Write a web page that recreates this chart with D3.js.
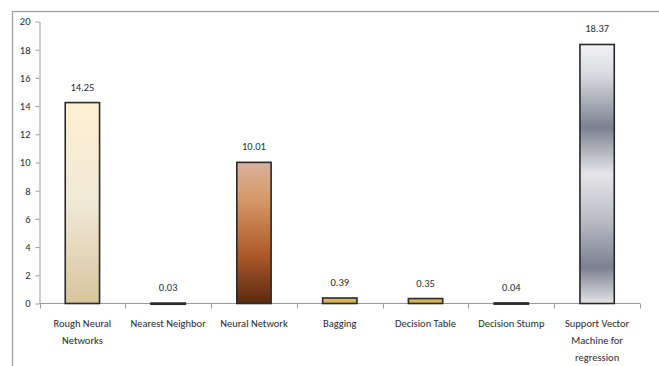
<!DOCTYPE html>
<html>
<head>
<meta charset="utf-8">
<script src="https://cdn.jsdelivr.net/npm/d3@7"></script>
<style>
  html, body { margin: 0; padding: 0; background: #fff; }
  svg { display: block; }
  text { font-family: Carlito, Lato, "Liberation Sans", sans-serif; fill: #2b2b2b; }
</style>
</head>
<body>
<script>
// Error of each regression method
const categories = [
  "Rough Neural Networks",
  "Nearest Neighbor",
  "Neural Network",
  "Bagging",
  "Decision Table",
  "Decision Stump",
  "Support Vector Machine for regression"
];
const categoryLines = [
  ["Rough Neural", "Networks"],
  ["Nearest Neighbor"],
  ["Neural Network"],
  ["Bagging"],
  ["Decision Table"],
  ["Decision Stump"],
  ["Support Vector", "Machine for", "regression"]
];
const values = [14.25, 0.03, 10.01, 0.39, 0.35, 0.04, 18.37];
const valueLabels = ["14.25", "0.03", "10.01", "0.39", "0.35", "0.04", "18.37"];
const yTicks = [0, 2, 4, 6, 8, 10, 12, 14, 16, 18, 20];

// Fill style per bar: gradient stops [offset, colour] from top to bottom
const fills = [
  [[0, "#fdf0d2"], [0.5, "#f1e9d6"], [1, "#d6c59e"]],
  [[0, "#222"], [1, "#222"]],
  [[0, "#d8b19c"], [0.25, "#d59b6a"], [0.65, "#ad5a2a"], [1, "#5a2a10"]],
  [[0, "#dcbc62"], [1, "#cfae52"]],
  [[0, "#dcbc62"], [1, "#cfae52"]],
  [[0, "#222"], [1, "#222"]],
  [[0, "#f2f2f4"], [0.12, "#d8dadf"], [0.32, "#7b8191"], [0.5, "#e6e6e8"], [0.68, "#b9bcc5"], [0.86, "#7b8191"], [1, "#e4e4e8"]]
];

const W = 659, H = 366;
const margin = { left: 39.5, right: 19, top: 21.5, bottom: 62 };
const fontSize = 10.5;

const svg = d3.select("body").append("svg")
  .attr("width", W).attr("height", H);

const defs = svg.append("defs");
fills.forEach((stops, i) => {
  const g = defs.append("linearGradient")
    .attr("id", "barFill" + i)
    .attr("x1", 0).attr("y1", 0).attr("x2", 0).attr("y2", 1);
  stops.forEach(s => g.append("stop").attr("offset", s[0]).attr("stop-color", s[1]));
});

// Chart frame
svg.append("rect")
  .attr("x", 12.5).attr("y", 11.5)
  .attr("width", 660).attr("height", 370)
  .attr("fill", "none").attr("stroke", "#a0a0a0").attr("stroke-width", 1.3);

const x = d3.scaleBand()
  .domain(categories)
  .range([margin.left, W - margin.right])
  .paddingInner(0.6).paddingOuter(0.3);

const y = d3.scaleLinear()
  .domain([0, 20])
  .range([H - margin.bottom - 0.5, margin.top]);

// Y axis
const yAxis = svg.append("g")
  .attr("transform", `translate(${margin.left},0)`)
  .call(d3.axisLeft(y).tickValues(yTicks).tickSize(4).tickPadding(5).tickSizeOuter(0));
yAxis.select(".domain").attr("stroke", "#9a9a9a");
yAxis.selectAll(".tick line").attr("stroke", "#9a9a9a");
yAxis.selectAll(".tick text").attr("font-size", fontSize).attr("fill", "#2b2b2b")
  .style("font-family", 'Carlito, Lato, "Liberation Sans", sans-serif');

// X axis with ticks at category boundaries
const y0 = y(0);
const bandEdges = d3.range(categories.length + 1).map(i => margin.left + i * (W - margin.right - margin.left) / categories.length);
svg.append("line")
  .attr("x1", margin.left).attr("x2", W - margin.right)
  .attr("y1", y0).attr("y2", y0)
  .attr("stroke", "#9a9a9a");
svg.selectAll("line.xtick").data(bandEdges).join("line")
  .attr("class", "xtick")
  .attr("x1", d => Math.round(d) + 0.5).attr("x2", d => Math.round(d) + 0.5)
  .attr("y1", y0).attr("y2", y0 + 5)
  .attr("stroke", "#9a9a9a");

// Bars
svg.selectAll("rect.bar").data(values).join("rect")
  .attr("class", "bar")
  .attr("x", (d, i) => x(categories[i]))
  .attr("width", x.bandwidth())
  .attr("y", d => y(d))
  .attr("height", d => Math.max(y0 - y(d), 1.2))
  .attr("fill", (d, i) => `url(#barFill${i})`)
  .attr("stroke", "#2a2a2a")
  .attr("stroke-width", 1.6);

// Value labels
svg.selectAll("text.val").data(values).join("text")
  .attr("class", "val")
  .attr("x", (d, i) => x(categories[i]) + x.bandwidth() / 2)
  .attr("y", d => y(d) - 12)
  .attr("text-anchor", "middle")
  .attr("font-size", fontSize)
  .text((d, i) => valueLabels[i]);

// Category labels
const catG = svg.selectAll("g.cat").data(categories).join("g")
  .attr("class", "cat")
  .attr("transform", d => `translate(${x(d) + x.bandwidth() / 2},${y0 + 23})`);
catG.each(function(d, i) {
  d3.select(this).selectAll("text").data(categoryLines[i]).join("text")
    .attr("x", 0)
    .attr("y", (l, j) => j * 17)
    .attr("text-anchor", "middle")
    .attr("font-size", fontSize)
    .text(l => l);
});
</script>
</body>
</html>
